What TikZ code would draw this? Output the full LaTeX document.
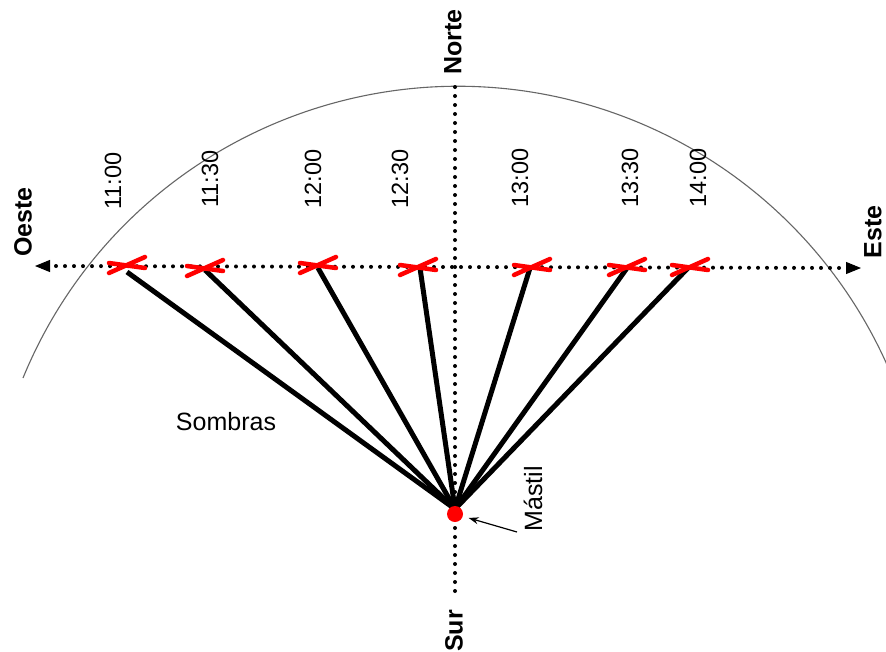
\documentclass[tikz,border=0pt]{standalone}
\usepackage{fontspec}
\setmainfont{Liberation Sans}
\usetikzlibrary{arrows.meta,calc}
\begin{document}
\begin{tikzpicture}[x=1pt,y=-1pt,
  dotline/.style={line width=4pt,dash pattern=on 0pt off 9pt,line cap=round},
  shadow/.style={line width=5pt,black},
  xmark/.style={line width=4.5pt,red,line cap=round},
  timelbl/.style={rotate=90,font=\fontsize{23.5}{26}\selectfont,inner sep=0pt},
  dirlbl/.style={rotate=90,font=\fontsize{25}{28}\selectfont\bfseries,inner sep=0pt},
  lbl/.style={font=\fontsize{25}{28}\selectfont,inner sep=0pt}]
\useasboundingbox (0,0) rectangle (886,651);
\fill[white] (0,0) rectangle (886,651);
% horizon arc
\draw[gray!80!black,line width=1.1pt] (23,378) arc[start angle=157.7,end angle=20,radius=470pt];
% compass lines
\coordinate (ntop) at (455,87);
\coordinate (sbot) at (455,592);
\coordinate (wend) at (35,266);
\coordinate (eend) at (861,268);
\draw[dotline] (ntop) -- (sbot);
\draw[dotline] ($(wend)+(12,0)$) -- ($(eend)+(-12,0)$);
\draw[line width=1pt,-{Triangle[length=15pt,width=12pt]}] ($(wend)+(14,0)$) -- (wend);
\draw[line width=1pt,-{Triangle[length=15pt,width=12pt]}] ($(eend)+(-14,0)$) -- (eend);
% shadow ends
\coordinate (base) at (455,509);
\coordinate (s1) at (127,272);
\coordinate (s2) at (205,270);
\coordinate (s3) at (318,268);
\coordinate (s4) at (420,268);
\coordinate (s5) at (530,268);
\coordinate (s6) at (627,268);
\coordinate (s7) at (688,268);
\foreach \s in {s1,s2,s3,s4,s5,s6,s7} \draw[shadow] (base) -- (\s);
% mast
\node[circle,fill=red,minimum size=16pt,inner sep=0pt] (mast) at (455,514) {};
% X marks
\foreach \p in {(127,265),(205,268),(318,265),(418,267),(532,267),(627,267),(690,267)}{
  \draw[xmark] \p ++(-18,8) -- ++(36,-16);
  \draw[xmark] \p ++(-18,-2) -- ++(36,5);
}
% time labels
\node[timelbl] (t1) at (113,181) {11:00};
\node[timelbl] (t2) at (210,179) {11:30};
\node[timelbl] (t3) at (313,179) {12:00};
\node[timelbl] (t4) at (400,179) {12:30};
\node[timelbl] (t5) at (520,178) {13:00};
\node[timelbl] (t6) at (630,178) {13:30};
\node[timelbl] (t7) at (698,178) {14:00};
% directions
\node[dirlbl] (norte) at (453,42) {Norte};
\node[dirlbl] (oeste) at (23,222) {Oeste};
\node[dirlbl] (este) at (873,232) {Este};
\node[dirlbl] (sur) at (454,631) {Sur};
% other labels
\node[lbl] (sombras) at (226,422) {Sombras};
\node[lbl,rotate=90] (mastil) at (533,499) {Mástil};
\coordinate (mtail) at (517,532);
\draw[line width=1.2pt,-{Stealth[length=10pt,width=7pt]},shorten >=6pt] (mtail) -- (mast);
\end{tikzpicture}
\end{document}
